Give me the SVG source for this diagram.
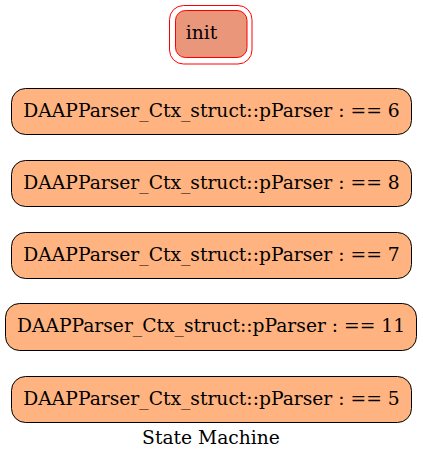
<svg xmlns="http://www.w3.org/2000/svg" width="423" height="460" viewBox="0 0 423 460">
<style>
.st{fill:#ffb380;stroke:#000;stroke-width:1}
.t{font-family:"DejaVu Serif",serif;font-size:18.7px;fill:#000;text-anchor:middle}
</style>
<rect width="423" height="460" fill="#fff"/>
<g id="connectors"></g>
<g id="init">
<rect x="169.5" y="5.5" width="82.5" height="58.5" rx="14" fill="none" stroke="#ff0000"/>
<rect x="175.5" y="10.5" width="71.5" height="47" rx="10" fill="#e9967a" stroke="#ff0000"/>
<text class="t" x="201.5" y="39">init</text>
</g>
<g id="s6">
<rect class="st" x="11.5" y="88.5" width="400" height="46" rx="14"/>
<text class="t" x="211.5" y="116.5">DAAPParser_Ctx_struct::pParser : == 6</text>
</g>
<g id="s8">
<rect class="st" x="11.5" y="160.5" width="400" height="46" rx="14"/>
<text class="t" x="211.5" y="188.5">DAAPParser_Ctx_struct::pParser : == 8</text>
</g>
<g id="s7">
<rect class="st" x="11.5" y="232.5" width="400" height="46" rx="14"/>
<text class="t" x="211.5" y="260.5">DAAPParser_Ctx_struct::pParser : == 7</text>
</g>
<g id="s11">
<rect class="st" x="5.5" y="303.5" width="411" height="47" rx="14"/>
<text class="t" x="211" y="332">DAAPParser_Ctx_struct::pParser : == 11</text>
</g>
<g id="s5">
<rect class="st" x="11.5" y="376.5" width="400" height="46" rx="14"/>
<text class="t" x="211.5" y="404.5">DAAPParser_Ctx_struct::pParser : == 5</text>
</g>
<text class="t" x="211" y="443.5">State Machine</text>
</svg>
